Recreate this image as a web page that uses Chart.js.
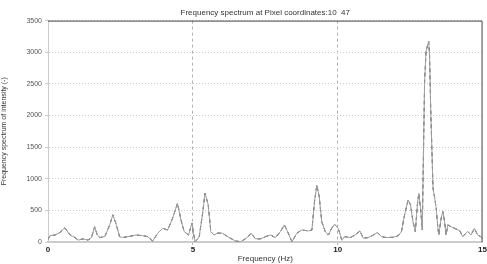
<!DOCTYPE html>
<html>
<head>
<meta charset="utf-8">
<script src="https://cdn.jsdelivr.net/npm/chart.js@4.4.1/dist/chart.umd.min.js"></script>
<style>
  html, body { margin: 0; padding: 0; background: #fff; }
</style>
</head>
<body>
<canvas id="spectrum" width="487" height="264"></canvas>
<script>
// Espectro de frecuencia
const freqHz = [
    0.00, 0.07, 0.24, 0.41, 0.58, 0.76, 0.93, 1.04, 1.21, 1.38,
    1.50, 1.61, 1.70, 1.79, 1.96, 2.13, 2.24, 2.36, 2.47, 2.58,
    2.76, 2.93, 3.04, 3.27, 3.44, 3.61, 3.79, 3.96, 4.13, 4.30,
    4.47, 4.59, 4.70, 4.85, 4.97, 5.02, 5.08, 5.22, 5.33, 5.42,
    5.53, 5.62, 5.73, 5.85, 6.02, 6.25, 6.48, 6.65, 6.88, 7.01,
    7.16, 7.34, 7.51, 7.68, 7.85, 8.02, 8.16, 8.27, 8.42, 8.59,
    8.76, 8.99, 9.11, 9.20, 9.28, 9.36, 9.45, 9.57, 9.68, 9.79,
    9.89, 10.02, 10.14, 10.25, 10.43, 10.60, 10.77, 10.88, 11.05, 11.23,
    11.37, 11.51, 11.68, 11.91, 12.08, 12.20, 12.31, 12.43, 12.51, 12.60,
    12.68, 12.75, 12.80, 12.86, 12.92, 12.95, 13.00, 13.05, 13.14, 13.17,
    13.21, 13.25, 13.29, 13.34, 13.40, 13.46, 13.49, 13.57, 13.63, 13.69,
    13.74, 13.80, 13.92, 14.09, 14.22, 14.31, 14.49, 14.60, 14.72, 14.83,
    14.94, 15.00
];
const intensity = [
    40, 100, 110, 150, 225, 110, 70, 30, 50, 30,
    70, 240, 110, 70, 85, 270, 430, 270, 85, 70,
    85, 100, 110, 100, 85, 15, 140, 215, 190, 375,
    610, 350, 165, 110, 300, 140, 0, 85, 430, 770,
    590, 165, 110, 140, 140, 70, 15, 5, 70, 140,
    50, 50, 85, 110, 70, 165, 270, 165, 5, 140,
    190, 175, 190, 640, 900, 720, 320, 165, 110, 215,
    280, 215, 30, 85, 70, 110, 175, 60, 70, 110,
    150, 85, 70, 75, 95, 165, 430, 665, 590, 320,
    165, 590, 770, 535, 190, 1100, 2540, 3015, 3175, 2960,
    2120, 1485, 850, 720, 535, 215, 110, 375, 480, 320,
    110, 270, 240, 205, 175, 85, 165, 110, 215, 110,
    85, 50
];
const xTicks = [0, 5, 10, 15];
const yTicks = [0, 500, 1000, 1500, 2000, 2500, 3000, 3500];

const titleText = 'Frequency spectrum at Pixel coordinates:10  47';
const xTitle = 'Frequency (Hz)';
const yTitle = 'Frequency spectrum of intensity (-)';

const points = freqHz.map((f, i) => ({ x: f, y: intensity[i] }));

// Marco superior y derecho del área del gráfico
const framePlugin = {
    id: 'frame',
    afterDraw: (chart) => {
        const a = chart.chartArea;
        const ctx = chart.ctx;
        ctx.save();
        ctx.setLineDash([]);
        ctx.strokeStyle = '#444';
        ctx.lineWidth = 1;
        ctx.beginPath();
        ctx.moveTo(a.left, a.top + 0.5);
        ctx.lineTo(a.right - 0.5, a.top + 0.5);
        ctx.lineTo(a.right - 0.5, a.bottom);
        ctx.stroke();
        ctx.restore();
    }
};

new Chart(document.getElementById('spectrum'), {
    type: 'line',
    data: {
        datasets: [{
            data: points,
            borderColor: '#a0a0a0',
            borderWidth: 1,
            pointRadius: 0,
            tension: 0
        }, {
            data: points,
            borderColor: '#222',
            borderWidth: 1,
            borderDash: [4, 3],
            pointRadius: 0,
            tension: 0
        }]
    },
    options: {
        responsive: false,
        animation: false,
        layout: { padding: { left: 0, right: 2, top: 0, bottom: 0 } },
        plugins: {
            legend: { display: false },
            tooltip: { enabled: false },
            title: {
                display: true,
                text: titleText,
                fullSize: false,
                color: '#333',
                font: { family: 'Liberation Sans', size: 8, weight: 'normal' },
                padding: { top: 8, bottom: 3 }
            }
        },
        scales: {
            x: {
                type: 'linear',
                min: 0,
                max: 15,
                afterBuildTicks: (s) => { s.ticks = xTicks.map(v => ({ value: v })); },
                afterFit: (s) => { s.height = 22; },
                ticks: {
                    color: '#222',
                    padding: 0,
                    callback: (v) => String(v),
                    font: { family: 'Liberation Sans', size: 8, weight: 'bold' }
                },
                grid: {
                    color: (c) => (c.tick && (c.tick.value === 5 || c.tick.value === 10)) ? '#b0b0b0' : 'rgba(0,0,0,0)',
                    lineWidth: 1,
                    tickLength: 3
                },
                border: { display: true, color: '#ccc', width: 2, dash: [3, 3] },
                title: {
                    display: true,
                    text: xTitle,
                    color: '#333',
                    padding: 0,
                    font: { family: 'Liberation Sans', size: 8 }
                }
            },
            y: {
                min: 0,
                max: 3500,
                afterBuildTicks: (s) => { s.ticks = yTicks.map(v => ({ value: v })); },
                afterFit: (s) => { s.width = 48; },
                ticks: {
                    color: '#555',
                    padding: 3,
                    callback: (v) => String(v),
                    font: { family: 'Liberation Sans', size: 7 }
                },
                grid: {
                    color: '#ccc',
                    lineWidth: 1,
                    tickLength: 3
                },
                border: { display: true, color: '#ccc', width: 1, dash: [1, 2] },
                title: {
                    display: true,
                    text: yTitle,
                    color: '#333',
                    padding: 0,
                    font: { family: 'Liberation Sans', size: 7 }
                }
            }
        }
    },
    plugins: [framePlugin]
});
</script>
</body>
</html>
